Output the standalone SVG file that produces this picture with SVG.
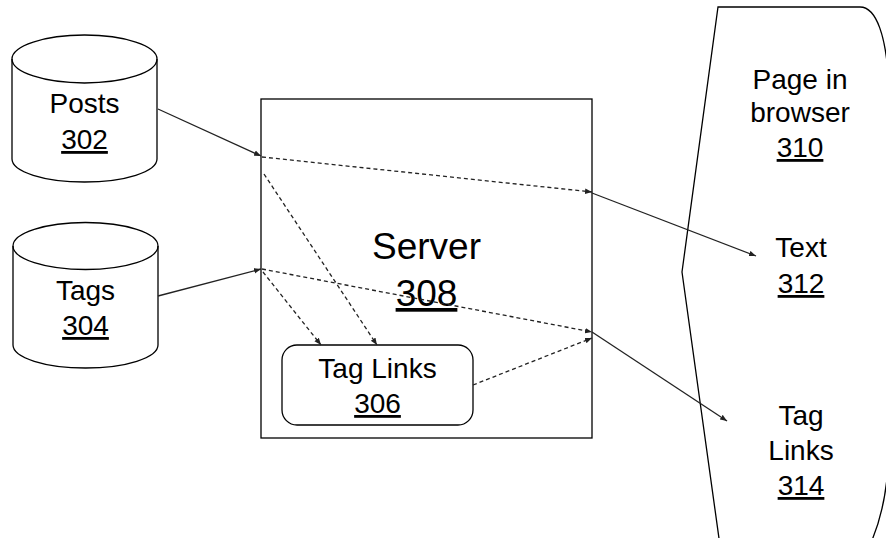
<svg xmlns="http://www.w3.org/2000/svg" width="886" height="538" viewBox="0 0 886 538">
<style>
.s{fill:none;stroke:#000;stroke-width:1.3}
.n{fill:#fff;stroke:#000;stroke-width:1.3}
.c{fill:none;stroke:#222;stroke-width:1.3}
.d{fill:none;stroke:#222;stroke-width:1.3;stroke-dasharray:4 3}
text{font-family:"Liberation Sans",Arial,sans-serif;fill:#000;text-anchor:middle}
.t{font-size:28px}
.u{text-decoration:underline}
.big{font-size:37px}
</style>
<defs>
<marker id="ah" viewBox="0 0 10 10" refX="10" refY="5" markerWidth="7" markerHeight="7" markerUnits="userSpaceOnUse" orient="auto">
<path d="M0,1 L10,5 L0,9 Z" fill="#222"/>
</marker>
</defs>
<rect width="886" height="538" fill="#fff"/>
<g id="posts">
<path class="n" d="M12,59 A72.5,24 0 0 1 157,59 V159 A72.5,23 0 0 1 12,159 Z"/>
<path class="s" d="M12,59 A72.5,24 0 0 0 157,59"/>
<text class="t" x="84.5" y="113">Posts</text>
<text class="t u" x="84.5" y="149">302</text>
</g>
<g id="tags">
<path class="n" d="M13,246 A72.5,23.5 0 0 1 158,246 V345 A72.5,23 0 0 1 13,345 Z"/>
<path class="s" d="M13,246 A72.5,23.5 0 0 0 158,246"/>
<text class="t" x="85.5" y="300">Tags</text>
<text class="t u" x="85.5" y="335">304</text>
</g>
<g id="server">
<rect class="n" x="261" y="99" width="331" height="339"/>
<text class="big" x="426.5" y="259">Server</text>
<text class="big u" x="426.5" y="306">308</text>
</g>
<g id="taglinks306">
<rect class="n" x="282" y="345" width="191" height="80" rx="15" ry="15"/>
<text class="t" x="377.5" y="378">Tag Links</text>
<text class="t u" x="377.5" y="413">306</text>
</g>
<g id="page">
<path class="s" d="M718,7 H860 C876,7 887,35 889,90 V440 C889,490 880,530 862,560 H722 L682,272 Z"/>
<text class="t" x="800" y="89">Page in</text>
<text class="t" x="800" y="122">browser</text>
<text class="t u" x="800" y="157">310</text>
<text class="t" x="801" y="257">Text</text>
<text class="t u" x="801" y="293">312</text>
<text class="t" x="801" y="425">Tag</text>
<text class="t" x="801" y="460">Links</text>
<text class="t u" x="801" y="495">314</text>
</g>
<g id="connectors">
<line class="c" x1="158" y1="109" x2="261" y2="156" marker-end="url(#ah)"/>
<line class="c" x1="158" y1="296" x2="261" y2="269" marker-end="url(#ah)"/>
<line class="d" x1="262" y1="157" x2="592" y2="192" marker-end="url(#ah)"/>
<line class="d" x1="264" y1="174" x2="377" y2="345" marker-end="url(#ah)"/>
<line class="d" x1="262" y1="269" x2="592" y2="332" marker-end="url(#ah)"/>
<line class="d" x1="263" y1="272" x2="321" y2="345" marker-end="url(#ah)"/>
<line class="d" x1="473" y1="385" x2="592" y2="338" marker-end="url(#ah)"/>
<line class="c" x1="592" y1="193" x2="756" y2="256" marker-end="url(#ah)"/>
<line class="c" x1="592" y1="332" x2="727" y2="421" marker-end="url(#ah)"/>
</g>
</svg>
